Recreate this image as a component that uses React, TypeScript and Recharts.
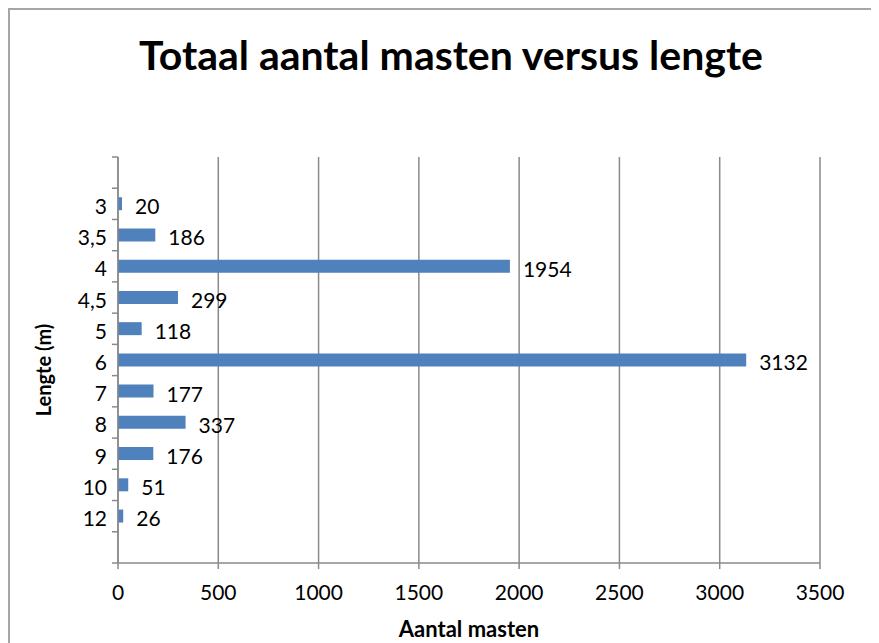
import React from 'react';
import { BarChart, Bar, XAxis, YAxis, CartesianGrid, LabelList } from 'recharts';

// lengths (m) top to bottom, and number of masts per length
const lengths = ['3', '3,5', '4', '4,5', '5', '6', '7', '8', '9', '10', '12'];
const counts = [20, 186, 1954, 299, 118, 3132, 177, 337, 176, 51, 26];
const xTicks = [0, 500, 1000, 1500, 2000, 2500, 3000, 3500];

// one empty slot above and below, like the original sheet
const names = ['', ...lengths, ''];
const data = names.map((name, i) => ({
  name: name || ' '.repeat(i + 1),
  slot: i + 0.5,
  value: i === 0 || i === names.length - 1 ? null : counts[i - 1],
}));
// integer ticks = slot borders (tick marks), half ticks = category labels
const slotTicks = names.flatMap((_, i) => [i, i + 0.5]).concat(names.length);

const FONT = 'Lato, "Open Sans", sans-serif';
const GRAY = '#8a8a8a';

const SlotTick = (props: any) => {
  const { x, y, payload } = props;
  const v = payload.value as number;
  if (Number.isInteger(v)) {
    return <line x1={x} x2={x + 6} y1={y} y2={y} stroke={GRAY} strokeWidth={1.5} />;
  }
  const label = names[Math.floor(v)];
  return (
    <text x={x - 5} y={y} dy={10} textAnchor="end" fontSize={21} fontFamily={FONT} fill="#000">
      {label}
    </text>
  );
};

const App: React.FC = () => {
  return (
    <div style={{ position: 'relative', width: 871, height: 635, overflow: 'hidden', fontFamily: FONT }}>
      <div
        style={{
          position: 'absolute',
          left: 0,
          top: 0,
          width: 900,
          height: 700,
          borderLeft: '2px solid #a6a6a6',
          borderTop: '2px solid #a6a6a6',
        }}
      />
      <BarChart
        width={871}
        height={635}
        data={data}
        layout="vertical"
        margin={{ top: 149, right: 59, left: 44, bottom: 30 }}
        style={{ position: 'absolute', left: 0, top: 0 }}
      >
        <CartesianGrid horizontal={false} stroke={GRAY} strokeWidth={1.5} />
        <XAxis
          type="number"
          domain={[0, 3500]}
          ticks={xTicks}
          height={50}
          tickSize={6}
          tickMargin={16}
          stroke={GRAY}
          strokeWidth={1.5}
          tick={{ fill: '#000', fontSize: 21, fontFamily: FONT }}
        />
        <YAxis type="category" dataKey="name" hide width={0} />
        <YAxis
          yAxisId="slots"
          type="number"
          dataKey="slot"
          domain={[0, names.length]}
          ticks={slotTicks}
          interval={0}
          allowDataOverflow
          width={66}
          tickSize={6}
          tickMargin={0}
          tickLine={false}
          tick={<SlotTick />}
          stroke={GRAY}
          strokeWidth={1.5}
        />
        <Bar dataKey="value" fill="#4F81BD" barSize={13} isAnimationActive={false}>
          <LabelList
            dataKey="value"
            position="right"
            offset={13}
            fill="#000"
            fontSize={21}
            fontFamily={FONT}
            dy={3}
          />
        </Bar>
      </BarChart>
      <svg width={871} height={635} style={{ position: 'absolute', left: 0, top: 0, pointerEvents: 'none' }}>
        <text x={443} y={62} textAnchor="middle" fontSize={41} fontWeight="bold" fontFamily={FONT} fill="#000">
          Totaal aantal masten versus lengte
        </text>
        <text x={461} y={629} textAnchor="middle" fontSize={22} fontWeight="bold" fontFamily={FONT} fill="#000">
          Aantal masten
        </text>
        <text
          transform="translate(43,362) rotate(-90)"
          textAnchor="middle"
          fontSize={20}
          fontWeight="bold"
          fontFamily={FONT}
          fill="#000"
        >
          Lengte (m)
        </text>
      </svg>
    </div>
  );
};

export default App;
